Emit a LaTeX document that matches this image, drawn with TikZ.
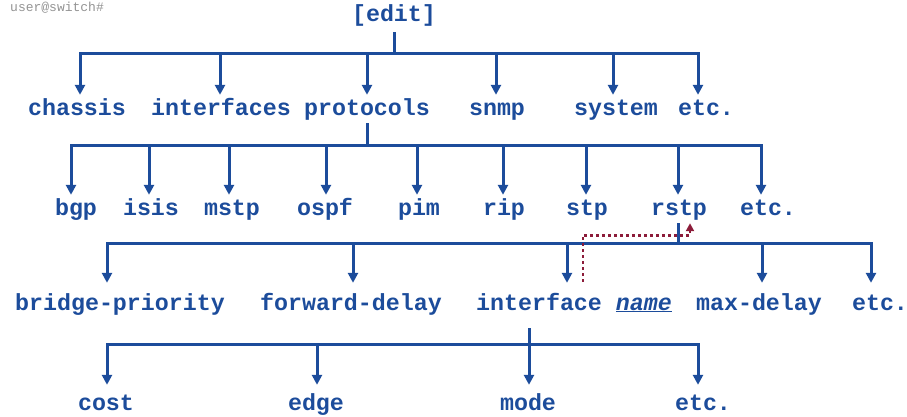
\documentclass[tikz,border=0pt]{standalone}
\usepackage{fontspec}
\setmonofont{Liberation Mono}
\usetikzlibrary{arrows.meta}
\definecolor{treeblue}{RGB}{28,76,155}
\definecolor{pathred}{RGB}{140,28,58}
\tikzset{
  lbl/.style={font=\ttfamily\bfseries\fontsize{23.3}{28}\selectfont, text=treeblue,
    anchor=base, inner sep=3pt, text height=14pt, text depth=5pt},
  bar/.style={draw=treeblue, line width=3pt},
  arr/.style={bar, -{Triangle[length=10pt,width=10pt]}},
  hop/.style={draw=pathred, line width=2.8pt, dash pattern=on 2.8pt off 3.2pt,
    -{Triangle[length=8pt,width=8pt]}}
}
\begin{document}
\begin{tikzpicture}[x=1pt, y=-1pt]
\useasboundingbox (0,0) rectangle (907,416);
\node[anchor=base west, inner sep=0pt, text=gray!85,
  font=\ttfamily\fontsize{13}{15}\selectfont] (prompt) at (10,11) {user@switch\#};
% hierarchy
\node[lbl] (edit) at (394,21) {[edit]};
\node[lbl] (chassis) at (77,115) {chassis};
\node[lbl] (interfaces) at (221,115) {interfaces};
\node[lbl] (protocols) at (367,115) {protocols};
\node[lbl] (snmp) at (497,115) {snmp};
\node[lbl] (system) at (616,115) {system};
\node[lbl] (etc1) at (706,115) {etc.};
\node[lbl] (bgp) at (76,215) {bgp};
\node[lbl] (isis) at (151,215) {isis};
\node[lbl] (mstp) at (232,215) {mstp};
\node[lbl] (ospf) at (325,215) {ospf};
\node[lbl] (pim) at (419,215) {pim};
\node[lbl] (rip) at (504,215) {rip};
\node[lbl] (stp) at (587,215) {stp};
\node[lbl] (rstp) at (679,215) {rstp};
\node[lbl] (etc2) at (768,215) {etc.};
\node[lbl] (bridge) at (120,310) {bridge-priority};
\node[lbl] (fwd) at (351,310) {forward-delay};
\node[lbl] (iface) at (574,310) {interface \underline{\textit{name}}};
\node[lbl] (maxdelay) at (759,310) {max-delay};
\node[lbl] (etc3) at (880,310) {etc.};
\node[lbl] (cost) at (106,410) {cost};
\node[lbl] (edge) at (316,410) {edge};
\node[lbl] (mode) at (528,410) {mode};
\node[lbl] (etc4) at (703,410) {etc.};
% branches
\draw[bar] ([yshift=-3pt]edit.south) -- ++(0,21) coordinate (b1);
\foreach \n/\dx in {chassis/3,interfaces/-1,protocols/0,snmp/-1,system/-3,etc1/-8}
  \draw[arr, shorten >=3pt] (b1) -| ([xshift=\dx pt]\n.north);
\draw[bar] (protocols.south) -- ++(0,22) coordinate (b2);
\foreach \n/\dx in {bgp/-5,isis/-2,mstp/-3,ospf/1,pim/-2,rip/-1,stp/-1,rstp/-1,etc2/-7}
  \draw[arr, shorten >=3pt] (b2) -| ([xshift=\dx pt]\n.north);
\draw[bar] ([xshift=-1pt]rstp.south) -- ++(0,20) coordinate (b3);
\foreach \n/\dx in {bridge/-13,fwd/2,iface/-7,maxdelay/3,etc3/-9}
  \draw[arr, shorten >=10pt] (b3) -| ([xshift=\dx pt]\n.north);
\draw[bar] ([xshift=-45pt,yshift=-10pt]iface.south) -- ++(0,16) coordinate (b4);
\foreach \n/\dx in {cost/1,edge/1,mode/1,etc4/-5}
  \draw[arr, shorten >=8pt] (b4) -| ([xshift=\dx pt]\n.north);
% path back up
\draw[hop] ([xshift=9pt,yshift=11pt]iface.north) |- ([xshift=11pt,yshift=-12pt]rstp.south)
  -- ([xshift=11pt]rstp.south);
\end{tikzpicture}
\end{document}
